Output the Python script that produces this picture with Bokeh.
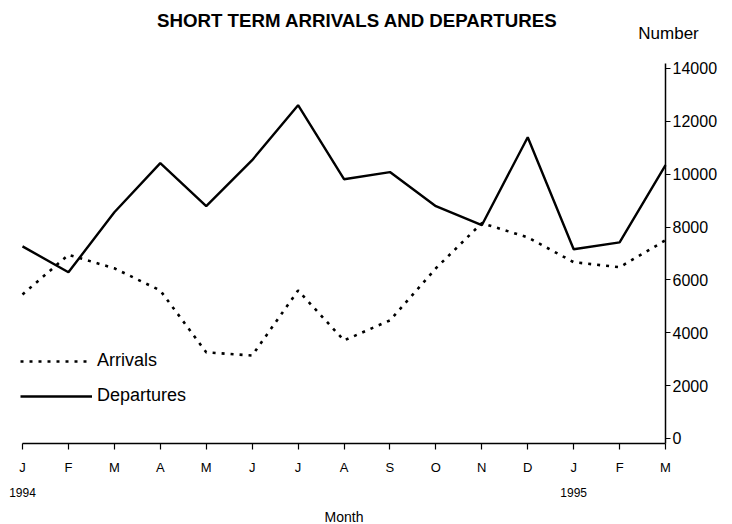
from bokeh.plotting import figure
from bokeh.models import Range1d, LinearAxis, FixedTicker, Legend, LegendItem
from bokeh.core.properties import value
from bokeh.embed import file_html
from bokeh.resources import INLINE

months = ["J", "F", "M", "A", "M", "J", "J", "A", "S", "O", "N", "D", "J", "F", "M"]
years = ["1994", "1995"]
year_month_index = [0, 12]
arrivals = [5450, 6950, 6440, 5600, 3260, 3140, 5600, 3710, 4470, 6440, 8150, 7610, 6670, 6480, 7500]
departures = [7270, 6290, 8560, 10420, 8790, 10530, 12610, 9810, 10080, 8790, 8070, 11400, 7160, 7420, 10340]
y_ticks = [0, 2000, 4000, 6000, 8000, 10000, 12000, 14000]
title_text = "SHORT TERM ARRIVALS AND DEPARTURES"
y_title = "Number"
x_title = "Month"

x = list(range(len(months)))
FONT = "Liberation Sans"
n = len(months) - 1

# the frame covers the whole canvas; axes are pinned inside it
p = figure(width=732, height=524, output_backend="svg", toolbar_location=None,
           x_range=Range1d(-0.479, 15.458), y_range=Range1d(-3254, 16572),
           min_border=0, min_border_left=0, min_border_right=0,
           min_border_top=0, min_border_bottom=0,
           y_axis_location=None, x_axis_location=None)
p.outline_line_color = None
p.grid.visible = False

# bottom axis (months)
xa = LinearAxis(ticker=FixedTicker(ticks=x),
                major_label_overrides={i: m for i, m in zip(x, months)},
                fixed_location=-200, bounds=(0, n))
xa.major_label_text_font = FONT
xa.major_label_text_font_size = "13px"
xa.major_label_text_color = "black"
xa.major_label_standoff = 10
xa.major_tick_out = 6
xa.major_tick_in = 0
xa.minor_tick_out = 0
xa.minor_tick_in = 0
xa.axis_line_width = 1.5
xa.axis_line_color = "black"
xa.major_tick_line_width = 1.2
p.add_layout(xa, "below")

# right axis
ya = LinearAxis(ticker=FixedTicker(ticks=y_ticks), fixed_location=n, bounds=(-200, 14200))
ya.major_label_text_font = FONT
ya.major_label_text_font_size = "16px"
ya.major_label_text_color = "black"
ya.major_label_standoff = 2
ya.major_tick_out = 5
ya.major_tick_in = 0
ya.minor_tick_out = 0
ya.minor_tick_in = 0
ya.axis_line_width = 1.5
ya.axis_line_color = "black"
p.add_layout(ya, "right")

r_arr = p.line(x, arrivals, line_color="black", line_width=2.6, line_dash="3 6")
r_dep = p.line(x, departures, line_color="black", line_width=2.4)

legend = Legend(items=[LegendItem(label="Arrivals", renderers=[r_arr]),
                       LegendItem(label="Departures", renderers=[r_dep])],
                location=(20, 118), padding=0, margin=0, spacing=14,
                glyph_width=72, glyph_height=20, label_height=20, label_standoff=5,
                label_text_font=FONT, label_text_font_size="18px", label_text_color="black",
                border_line_color=None, background_fill_alpha=0)
p.add_layout(legend)

# year labels under January
p.text(x=year_month_index, y=[-2043] * len(years), text=years, text_align="center",
       text_baseline="middle", text_font=value(FONT), text_font_size="12px",
       text_color="black")
# axis titles and chart title
p.text(x=[n / 2], y=[-2989], text=[x_title], text_align="center", text_baseline="middle",
       text_font=value(FONT), text_font_size="14px", text_color="black")
p.text(x=[n + 0.065], y=[15324], text=[y_title], text_align="center", text_baseline="middle",
       text_font=value(FONT), text_font_size="17px", text_color="black")
p.text(x=[7.294], y=[15816], text=[title_text], text_align="center", text_baseline="middle",
       text_font=value(FONT), text_font_size="18.7px", text_font_style="bold",
       text_color="black")

open("out.html", "w").write(file_html(p, INLINE))
